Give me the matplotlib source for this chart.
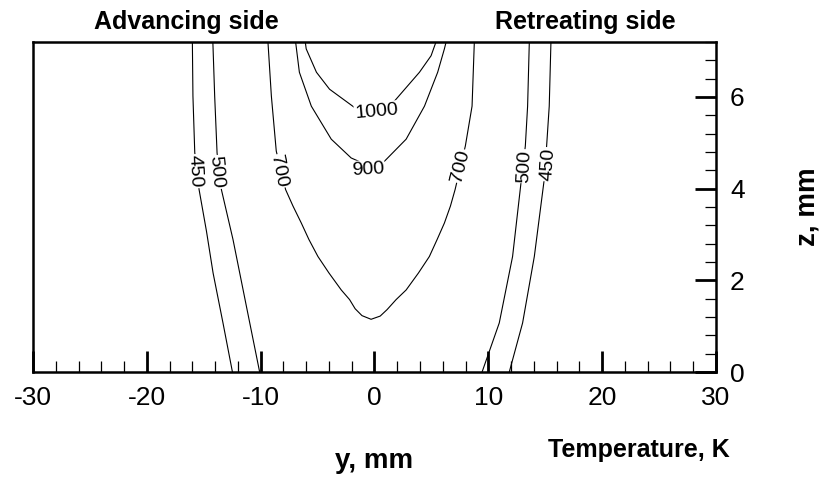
import numpy as np
import matplotlib
matplotlib.use('Agg')
import matplotlib.pyplot as plt
from matplotlib.ticker import MultipleLocator

plt.rcParams['font.family'] = ['Liberation Sans', 'DejaVu Sans']
plt.rcParams['axes.unicode_minus'] = False

## CONTOUR LINES (y in mm, z in mm)
y450_l = [-16.0, -15.95, -15.79, -15.41, -14.76, -14.18, -13.31, -12.48]
z450_l = [7.2, 6.02, 4.79, 3.98, 3.07, 2.16, 1.07, 0.0]
y500_l = [-14.2, -14.04, -13.83, -13.45, -12.43, -11.25, -10.09]
z500_l = [7.2, 6.02, 4.78, 3.98, 2.89, 1.43, 0.0]

y700 = [-9.36, -9.06, -8.63, -7.81, -7.16, -6.43, -5.76, -4.97, -4.0, -2.92, -2.19,
        -1.7, -1.1, -0.3, 0.5, 1.1, 1.9, 2.78, 3.86, 4.82, 5.5, 6.14, 6.67,
        7.08, 7.98, 8.57, 8.77]
z700 = [7.2, 6.02, 4.82, 3.98, 3.62, 3.25, 2.89, 2.52, 2.16, 1.79, 1.58,
        1.38, 1.23, 1.15, 1.22, 1.36, 1.58, 1.79, 2.16, 2.52, 2.89, 3.25, 3.62,
        3.98, 4.93, 5.8, 7.2]

y900 = [-6.93, -6.6, -5.55, -3.8, -2.05, -0.5, 0.88, 2.78, 4.39, 5.55, 6.14, 6.29]
z900 = [7.2, 6.54, 5.8, 5.08, 4.67, 4.5, 4.6, 5.08, 5.8, 6.54, 7.05, 7.2]

y1000 = [-6.08, -6.0, -5.1, -3.95, -1.75, 0.0, 1.75, 3.95, 4.97, 5.4]
z1000 = [7.2, 7.05, 6.54, 6.17, 5.77, 5.68, 5.91, 6.54, 6.9, 7.2]

y500_r = [9.45, 10.96, 12.13, 12.87, 13.25, 13.45, 13.6]
z500_r = [0.0, 1.07, 2.52, 4.13, 4.93, 5.8, 7.2]
y450_r = [11.84, 13.01, 14.04, 14.91, 15.12, 15.35, 15.5]
z450_r = [0.0, 1.07, 2.52, 4.2, 4.93, 5.8, 7.2]

lines = [(y450_l, z450_l), (y500_l, z500_l), (y700, z700), (y900, z900),
         (y1000, z1000), (y500_r, z500_r), (y450_r, z450_r)]

## CONTOUR LABELS
lab_text = ['450', '500', '700', '1000', '900', '700', '500', '450']
lab_y = [-15.79, -13.9, -8.39, 0.18, -0.6, 7.6, 13.16, 15.29]
lab_z = [4.38, 4.36, 4.38, 5.69, 4.42, 4.49, 4.49, 4.53]
lab_rot = [-87, -85, -79, 5, 3, 76, 87, 86]

fig = plt.figure(figsize=(8.2, 4.83), dpi=100)
ax = fig.add_axes([33/820, 1-372/483, (716-33)/820, (372-42)/483])

for yy, zz in lines:
    ax.plot(yy, zz, color='black', lw=0.8, zorder=2)

for t, yy, zz, r in zip(lab_text, lab_y, lab_z, lab_rot):
    ax.text(yy, zz, t, fontsize=14, rotation=r, ha='center', va='center',
            rotation_mode='anchor', zorder=3,
            bbox=dict(facecolor='white', edgecolor='none', pad=0.5))

ax.set_xlim(-30, 30)
ax.set_ylim(0, 7.2)
ax.xaxis.set_major_locator(MultipleLocator(10))
ax.xaxis.set_minor_locator(MultipleLocator(2))
ax.yaxis.set_major_locator(MultipleLocator(2))
ax.yaxis.set_minor_locator(MultipleLocator(0.4))
ax.yaxis.tick_right()
ax.tick_params(which='both', direction='in', labelsize=19, pad=10)
ax.tick_params(which='major', length=15, width=2)
ax.tick_params(which='minor', length=8, width=0.9)
ax.tick_params(axis='y', which='both', left=False, right=True, labelleft=False, labelright=True)
for s in ax.spines.values():
    s.set_linewidth(1.8)

fig.text(186/820, 1-22/483, 'Advancing side', fontsize=18, fontweight='bold', ha='center', va='center')
fig.text(585/820, 1-22/483, 'Retreating side', fontsize=18, fontweight='bold', ha='center', va='center')
fig.text(374/820, 1-461/483, 'y, mm', fontsize=20, fontweight='bold', ha='center', va='center')
fig.text(639/820, 1-450/483, 'Temperature, K', fontsize=18, fontweight='bold', ha='center', va='center')
fig.text(808/820, 1-207/483, 'z, mm', fontsize=20, fontweight='bold', ha='center', va='center', rotation=90)

fig.savefig('out.png', dpi=100)
